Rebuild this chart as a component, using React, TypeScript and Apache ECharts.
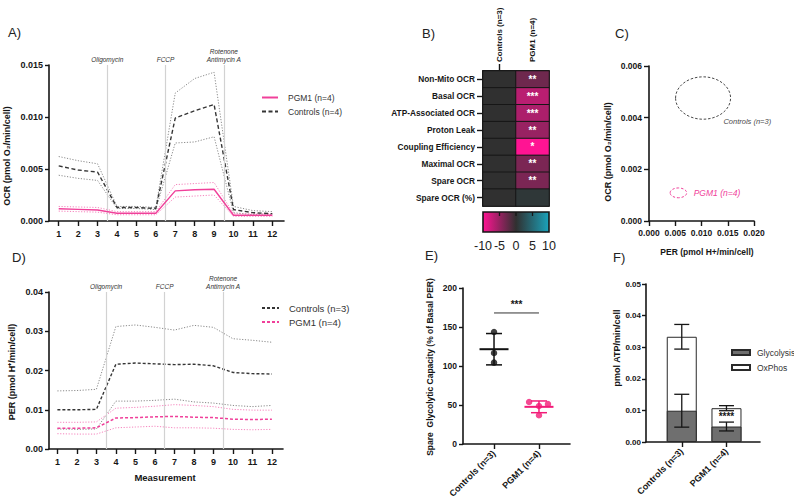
import React, { useEffect, useRef } from "react";
import * as echarts from "echarts";

const WIDTH = 794;
const HEIGHT = 502;
const FONT = "'Liberation Sans', Arial, Helvetica, sans-serif";
const INK = "#161616";
const PINK = "#f0409a";
const PINK_SOFT = "#f584bd";
const GREY = "#8a8a8a";
const DARK = "#353535";

// ---------- A) OCR time course ----------
const measurements = [1, 2, 3, 4, 5, 6, 7, 8, 9, 10, 11, 12];
const ocrControlsMean = [0.0053, 0.0049, 0.0047, 0.0013, 0.0013, 0.0012, 0.0099, 0.0106, 0.0112, 0.0011, 0.0008, 0.0007];
const ocrControlsUpper = [0.0062, 0.0058, 0.0055, 0.0014, 0.0014, 0.0013, 0.0123, 0.0137, 0.0143, 0.0014, 0.001, 0.0009];
const ocrControlsLower = [0.0044, 0.0041, 0.0039, 0.0012, 0.0012, 0.0011, 0.0075, 0.0076, 0.0081, 0.0008, 0.0006, 0.0006];
const ocrPgm1Mean = [0.00118, 0.00112, 0.00106, 0.00075, 0.00074, 0.00074, 0.0029, 0.003, 0.00305, 0.00055, 0.00055, 0.00055];
const ocrPgm1Upper = [0.0014, 0.00135, 0.0013, 0.0009, 0.0009, 0.0009, 0.0035, 0.0036, 0.0037, 0.0007, 0.0007, 0.0007];
const ocrPgm1Lower = [0.00095, 0.0009, 0.00085, 0.0006, 0.0006, 0.0006, 0.0023, 0.0024, 0.0025, 0.00045, 0.00045, 0.00045];

const injectionPoints = [3.5, 6.5, 9.5];
const injectionNames = ["Oligomycin", "FCCP", "Rotenone\nAntimycin A"];

// ---------- D) PER time course ----------
const perControlsMean = [0.01, 0.01, 0.0101, 0.0216, 0.0219, 0.0217, 0.0215, 0.0216, 0.0212, 0.0195, 0.0192, 0.0191];
const perControlsUpper = [0.0148, 0.0149, 0.0152, 0.0312, 0.0316, 0.031, 0.0303, 0.0315, 0.031, 0.0281, 0.0277, 0.0272];
const perControlsLower = [0.0051, 0.005, 0.0051, 0.0122, 0.0122, 0.0124, 0.0127, 0.012, 0.0117, 0.0111, 0.0108, 0.0111];
const perPgm1Mean = [0.0053, 0.0053, 0.0054, 0.0079, 0.008, 0.0082, 0.0083, 0.0081, 0.008, 0.0076, 0.0075, 0.0076];
const perPgm1Upper = [0.0068, 0.0068, 0.0069, 0.0104, 0.0106, 0.0109, 0.0113, 0.0111, 0.0108, 0.0101, 0.0099, 0.0099];
const perPgm1Lower = [0.0039, 0.0038, 0.0038, 0.0054, 0.0056, 0.0058, 0.0054, 0.0054, 0.0053, 0.005, 0.0049, 0.005];

// ---------- B) z-score heatmap ----------
const scoreRows = ["Non-Mito OCR", "Basal OCR", "ATP-Associated OCR", "Proton Leak", "Coupling Efficiency", "Maximal OCR", "Spare OCR", "Spare OCR (%)"];
const scoreColumns = ["Controls (n=3)", "PGM1 (n=4)"];
const controlsScores = [0, 0, 0, 0, 0, 0, 0, 0];
const pgm1Scores = [-3, -6.6, -6, -5, -10, -3.6, -3.6, 0.6];
const pgm1Stars = ["**", "***", "***", "**", "*", "**", "**", ""];
const scoreScale = [-10, -5, 0, 5, 10];
const scoreColors = ["#ff1493", "#303030", "#1ba3bb"];

// ---------- C) energy map ----------
const energyGroups = ["Controls (n=3)", "PGM1 (n=4)"];
const energyPer = [0.0103, 0.0056];
const energyOcr = [0.00476, 0.00109];
const energyPerSpread = [0.00524, 0.00158];
const energyOcrSpread = [0.00082, 0.00019];

// ---------- E) spare glycolytic capacity ----------
const groupNames = ["Controls (n=3)", "PGM1 (n=4)"];
const spareControls = [143.6, 116.7, 104.3];
const sparePgm1 = [53.8, 48.7, 51.3, 36.8];
const sparePgm1Jitter = [-0.22, 0, 0.2, 0];
const spareSignificance = 168;
const spareStars = "***";

// ---------- F) ATP production ----------
const glycolysisAtp = [0.0099, 0.0049];
const glycolysisSd = [0.0052, 0.0014];
const oxphosAtp = [0.0234, 0.0058];
const oxphosSd = [0.0039, 0.0008];
const atpStars = ["", "****"];

// ---------- shared styling helpers ----------
const tickText = (size = 9, extra: any = {}) => ({
  fontFamily: FONT, fontSize: size, fontWeight: "bold", color: INK, ...extra,
});
const axisLine = { show: true, lineStyle: { color: INK, width: 1.6 } };
const axisTick = (length: number, extra: any = {}) => ({
  show: true, length, lineStyle: { color: INK, width: 1.4 }, ...extra,
});
const noSplit = { show: false };

const panelLetter = (text: string, x: number, y: number) => ({
  type: "text", x, y, silent: true,
  style: { text, fill: "#222", fontFamily: FONT, fontSize: 13, align: "left", verticalAlign: "middle" },
});
const verticalTitle = (text: string, x: number, y: number, size = 9, align = "center") => ({
  type: "text", x, y, rotation: Math.PI / 2, silent: true,
  style: { text, fill: INK, fontFamily: FONT, fontSize: size, fontWeight: "bold", align, verticalAlign: "middle" },
});
const flatTitle = (text: string, x: number, y: number, size = 9) => ({
  type: "text", x, y, silent: true,
  style: { text, fill: INK, fontFamily: FONT, fontSize: size, fontWeight: "bold", align: "center", verticalAlign: "middle" },
});

const pairs = (vals: number[]) => vals.map((v, i) => [measurements[i], v]);
const trace = (name: string, vals: number[], color: string, type: any, width: number, z: number) => ({
  type: "line", name, data: pairs(vals), symbol: "none", silent: true, z,
  lineStyle: { color, type, width }, itemStyle: { color },
});

const injectionMarks = {
  silent: true,
  symbol: ["none", "none"],
  lineStyle: { color: "#d2d2d2", width: 1.2, type: "solid" },
  label: {
    show: true, position: "end", distance: 2, fontFamily: FONT, fontSize: 6.5,
    fontStyle: "italic", color: "#333", lineHeight: 8,
  },
  emphasis: { disabled: true },
  data: injectionPoints.map((x, i) => ({ xAxis: x, label: { formatter: injectionNames[i] } })),
};

const measurementAxis = (min: number, max: number) => ({
  type: "value", min, max, splitLine: noSplit, axisLine,
  axisTick: axisTick(5, { customValues: measurements }),
  axisLabel: { ...tickText(9), customValues: measurements, margin: 8 },
});

// line legends show the stroke only
const lineLegend = (left: number, top: number, names: string[], size: number, width: number, gap: number) => ({
  left, top, orient: "vertical", itemWidth: width, itemHeight: 8, itemGap: gap,
  selectedMode: false, data: names,
  itemStyle: { opacity: 0 },
  textStyle: { fontFamily: FONT, fontSize: size, color: "#333", padding: [0, 0, 0, 5] },
});

// ---------- A ----------
const optionA: any = {
  animation: false,
  grid: { left: 49, top: 65, width: 235, height: 156 },
  xAxis: measurementAxis(0.5, 12.6),
  yAxis: {
    type: "value", min: 0, max: 0.015, interval: 0.005,
    splitLine: noSplit, axisLine, axisTick: axisTick(4),
    axisLabel: { ...tickText(9), margin: 6, formatter: (v: number) => v.toFixed(3) },
  },
  legend: lineLegend(256, 88, ["PGM1 (n=4)", "Controls (n=4)"], 8.5, 16, 5),
  graphic: [
    panelLetter("A)", 8, 32),
    verticalTitle("OCR (pmol O\u2082/min/cell)", 7, 156, 9),
  ],
  series: [
    { ...trace("ctrl-upper", ocrControlsUpper, GREY, [1.2, 1.6], 1, 2), markLine: injectionMarks },
    trace("ctrl-lower", ocrControlsLower, GREY, [1.2, 1.6], 1, 2),
    trace("pgm-upper", ocrPgm1Upper, PINK_SOFT, [1.2, 1.6], 1, 3),
    trace("pgm-lower", ocrPgm1Lower, PINK_SOFT, [1.2, 1.6], 1, 3),
    trace("Controls (n=4)", ocrControlsMean, DARK, [4, 2.5], 1.4, 4),
    trace("PGM1 (n=4)", ocrPgm1Mean, PINK, "solid", 1.4, 5),
  ],
};

// ---------- D ----------
const optionD: any = {
  animation: false,
  grid: { left: 49, top: 292, width: 234, height: 157 },
  xAxis: measurementAxis(0.57, 12.57),
  yAxis: {
    type: "value", min: 0, max: 0.04, interval: 0.01,
    splitLine: noSplit, axisLine, axisTick: axisTick(4),
    axisLabel: { ...tickText(9), margin: 6, formatter: (v: number) => v.toFixed(2) },
  },
  legend: lineLegend(256, 298, ["Controls (n=3)", "PGM1 (n=4)"], 9.5, 17, 4),
  graphic: [
    panelLetter("D)", 12, 257),
    verticalTitle("PER (pmol H\u207A/min/cell)", 12, 372, 9),
    flatTitle("Measurement", 165, 477, 9.5),
  ],
  series: [
    { ...trace("ctrl-upper", perControlsUpper, GREY, [1.2, 1.6], 1, 2), markLine: injectionMarks },
    trace("ctrl-lower", perControlsLower, GREY, [1.2, 1.6], 1, 2),
    trace("pgm-upper", perPgm1Upper, PINK_SOFT, [1.2, 1.6], 1, 3),
    trace("pgm-lower", perPgm1Lower, PINK_SOFT, [1.2, 1.6], 1, 3),
    trace("Controls (n=3)", perControlsMean, DARK, [3, 2], 1.4, 4),
    trace("PGM1 (n=4)", perPgm1Mean, PINK, [3, 2], 1.5, 5),
  ],
};

// ---------- B ----------
const heatData: any[] = [];
scoreRows.forEach((_, r) => {
  heatData.push([0, r, controlsScores[r]]);
  heatData.push([1, r, pgm1Scores[r]]);
});

const colorbarItem = (params: any, api: any) => {
  const lo = api.coord([scoreScale[0], 0]);
  const hi = api.coord([scoreScale[scoreScale.length - 1], 1]);
  const marks = scoreScale.slice(1, -1).map((v) => {
    const p = api.coord([v, 1]);
    return {
      type: "line",
      shape: { x1: p[0], y1: p[1], x2: p[0], y2: p[1] + 4 },
      style: { stroke: INK, lineWidth: 1.3 },
    };
  });
  return {
    type: "group",
    children: [
      {
        type: "rect",
        shape: { x: lo[0], y: hi[1], width: hi[0] - lo[0], height: lo[1] - hi[1] },
        style: {
          fill: new echarts.graphic.LinearGradient(0, 0, 1, 0, [
            { offset: 0, color: scoreColors[0] },
            { offset: 0.5, color: scoreColors[1] },
            { offset: 1, color: scoreColors[2] },
          ]),
          stroke: INK, lineWidth: 1.6,
        },
      },
      ...marks,
    ],
  };
};

// column headings of the heatmap, written upward from just above each column tick
const heatLeft = 483;
const heatTop = 71;
const heatWidth = 66;
const heatHeight = 135;
const columnHeadings = scoreColumns.map((name, i) =>
  verticalTitle(name, heatLeft + (heatWidth / scoreColumns.length) * (i + 0.5), heatTop - 9, 8, "left")
);

const optionB: any = {
  animation: false,
  grid: [
    { left: heatLeft, top: heatTop, width: heatWidth, height: heatHeight, show: true, borderColor: INK, borderWidth: 1.6, backgroundColor: "transparent" },
    { left: heatLeft, top: 212, width: heatWidth, height: 20 },
  ],
  xAxis: [
    {
      gridIndex: 0, type: "category", position: "top", data: scoreColumns,
      axisLine, axisTick: axisTick(7, { alignWithLabel: true }), splitLine: noSplit,
      axisLabel: { show: false },
    },
    {
      gridIndex: 1, type: "value", min: -10, max: 10, interval: 5,
      axisLine: { show: false }, axisTick: { show: false }, splitLine: noSplit,
      axisLabel: { fontFamily: FONT, fontSize: 12.5, color: "#222", margin: 7 },
    },
  ],
  yAxis: [
    {
      gridIndex: 0, type: "category", inverse: true, data: scoreRows,
      axisLine, axisTick: axisTick(6, { alignWithLabel: true }), splitLine: noSplit,
      axisLabel: { ...tickText(8.3), margin: 8, interval: 0 },
    },
    { gridIndex: 1, type: "value", min: 0, max: 1, show: false },
  ],
  visualMap: {
    type: "continuous", min: -10, max: 10, show: false, seriesIndex: 0,
    inRange: { color: scoreColors },
  },
  graphic: [panelLetter("B)", 422, 33), ...columnHeadings],
  series: [
    {
      type: "heatmap", xAxisIndex: 0, yAxisIndex: 0, data: heatData,
      itemStyle: { borderColor: INK, borderWidth: 1 },
      emphasis: { disabled: true },
      label: {
        show: true, color: "#fff", fontFamily: FONT, fontWeight: "bold", fontSize: 10,
        formatter: (p: any) => (p.value[0] === 1 ? pgm1Stars[p.value[1]] : ""),
      },
    },
    {
      type: "custom", xAxisIndex: 1, yAxisIndex: 1, silent: true,
      data: [[scoreScale[0], 0]], renderItem: colorbarItem,
    },
  ],
};

// ---------- C ----------
const energyItem = (params: any, api: any) => {
  const i = params.dataIndex;
  const c = api.coord([api.value(0), api.value(1)]);
  const s = api.size([api.value(2), api.value(3)]);
  const color = i === 0 ? "#4a4a4a" : PINK;
  const lx = i === 0 ? c[0] + s[0] * 0.74 : c[0] + s[0] + 7;
  const ly = i === 0 ? c[1] + s[1] + 2 : c[1];
  return {
    type: "group",
    children: [
      {
        type: "ellipse",
        shape: { cx: c[0], cy: c[1], rx: s[0], ry: s[1] },
        style: { fill: "none", stroke: color, lineWidth: 1, lineDash: [2.5, 1.8] },
      },
      {
        type: "text", x: lx, y: ly,
        style: {
          text: energyGroups[i], fill: color, fontFamily: FONT, fontStyle: "italic",
          fontSize: i === 0 ? 7.5 : 8.5, align: "left", verticalAlign: "middle",
        },
      },
    ],
  };
};

const optionC: any = {
  animation: false,
  grid: { left: 649, top: 66, width: 105, height: 155 },
  xAxis: {
    type: "value", min: 0, max: 0.02, interval: 0.005, splitLine: noSplit, axisLine,
    axisTick: axisTick(5), axisLabel: { ...tickText(8.5), margin: 7, formatter: (v: number) => v.toFixed(3) },
  },
  yAxis: {
    type: "value", min: 0, max: 0.006, interval: 0.002, splitLine: noSplit, axisLine,
    axisTick: axisTick(5), axisLabel: { ...tickText(8.5), margin: 7, formatter: (v: number) => v.toFixed(3) },
  },
  graphic: [
    panelLetter("C)", 615, 33),
    verticalTitle("OCR (pmol O\u2082/min/cell)", 608, 152, 9),
    flatTitle("PER (pmol H+/min/cell)", 707, 252, 8.5),
  ],
  series: [
    {
      type: "custom", silent: true, clip: false,
      data: energyGroups.map((_, i) => [energyPer[i], energyOcr[i], energyPerSpread[i], energyOcrSpread[i]]),
      renderItem: energyItem,
    },
  ],
};

// ---------- E ----------
const meanOf = (a: number[]) => a.reduce((s, v) => s + v, 0) / a.length;
const sdOf = (a: number[]) => {
  const m = meanOf(a);
  return Math.sqrt(a.reduce((s, v) => s + (v - m) * (v - m), 0) / (a.length - 1));
};
const spareGroups = [spareControls, sparePgm1];
const spareColors = ["#111111", "#f21b78"];

const spreadItem = (params: any, api: any) => {
  const i = params.dataIndex;
  const x = api.value(0), m = api.value(1), sd = api.value(2);
  const c = api.coord([x, m]);
  const hi = api.coord([x, m + sd]);
  const lo = api.coord([x, m - sd]);
  const stroke = spareColors[i];
  return {
    type: "group",
    children: [
      { type: "line", shape: { x1: c[0] - 14.5, y1: c[1], x2: c[0] + 14.5, y2: c[1] }, style: { stroke, lineWidth: 2 } },
      { type: "line", shape: { x1: hi[0], y1: hi[1], x2: lo[0], y2: lo[1] }, style: { stroke, lineWidth: 1.5 } },
      { type: "line", shape: { x1: hi[0] - 8, y1: hi[1], x2: hi[0] + 8, y2: hi[1] }, style: { stroke, lineWidth: 1.5 } },
      { type: "line", shape: { x1: lo[0] - 8, y1: lo[1], x2: lo[0] + 8, y2: lo[1] }, style: { stroke, lineWidth: 1.5 } },
    ],
  };
};

const bracketItem = (params: any, api: any) => {
  const a = api.coord([api.value(0), api.value(2)]);
  const b = api.coord([api.value(1), api.value(2)]);
  return {
    type: "group",
    children: [
      { type: "line", shape: { x1: a[0], y1: a[1], x2: b[0], y2: b[1] }, style: { stroke: "#333", lineWidth: 1 } },
      {
        type: "text", x: (a[0] + b[0]) / 2, y: a[1] - 3,
        style: { text: spareStars, fill: INK, fontFamily: FONT, fontWeight: "bold", fontSize: 10, align: "center", verticalAlign: "bottom" },
      },
    ],
  };
};

const groupAxis = (min: number, max: number) => ({
  type: "value", min, max, splitLine: noSplit, axisLine,
  axisTick: axisTick(5, { customValues: [1, 2] }),
  axisLabel: {
    ...tickText(9), customValues: [1, 2], rotate: 45, margin: 8,
    formatter: (v: number) => groupNames[Math.round(v) - 1],
  },
});

const optionE: any = {
  animation: false,
  grid: { left: 463, top: 288, width: 107, height: 156 },
  xAxis: groupAxis(0.31, 2.69),
  yAxis: {
    type: "value", min: 0, max: 200, interval: 50, splitLine: noSplit, axisLine,
    axisTick: axisTick(4), axisLabel: { ...tickText(8.5), margin: 6 },
  },
  graphic: [
    panelLetter("E)", 425, 255),
    verticalTitle("Spare  Glycolytic Capacity (% of Basal PER)", 430, 367, 8.5),
  ],
  series: [
    {
      type: "scatter", silent: true, symbolSize: 6.5, z: 3,
      itemStyle: { color: spareColors[0] },
      data: spareControls.map((v) => [1, v]),
    },
    {
      type: "scatter", silent: true, symbolSize: 6.5, z: 3,
      itemStyle: { color: spareColors[1] },
      data: sparePgm1.map((v, i) => [2 + sparePgm1Jitter[i], v]),
    },
    {
      type: "custom", silent: true, z: 4,
      data: spareGroups.map((g, i) => [i + 1, meanOf(g), sdOf(g)]),
      renderItem: spreadItem,
    },
    {
      type: "custom", silent: true, z: 4,
      data: [[1, 2, spareSignificance]],
      renderItem: bracketItem,
    },
  ],
};

// ---------- F ----------
const atpTotal = glycolysisAtp.map((v, i) => v + oxphosAtp[i]);
const atpErrorData = groupNames.flatMap((_, i) => [
  [i + 1, glycolysisAtp[i], glycolysisSd[i]],
  [i + 1, atpTotal[i], oxphosSd[i]],
]);

const errorItem = (params: any, api: any) => {
  const x = api.value(0), y = api.value(1), sd = api.value(2);
  const hi = api.coord([x, y + sd]);
  const lo = api.coord([x, y - sd]);
  const style = { stroke: INK, lineWidth: 1.3 };
  return {
    type: "group",
    children: [
      { type: "line", shape: { x1: hi[0], y1: hi[1], x2: lo[0], y2: lo[1] }, style },
      { type: "line", shape: { x1: hi[0] - 7.5, y1: hi[1], x2: hi[0] + 7.5, y2: hi[1] }, style },
      { type: "line", shape: { x1: lo[0] - 7.5, y1: lo[1], x2: lo[0] + 7.5, y2: lo[1] }, style },
    ],
  };
};

const atpStarItem = (params: any, api: any) => {
  const p = api.coord([api.value(0), api.value(1)]);
  return {
    type: "text", x: p[0], y: p[1],
    style: { text: atpStars[params.dataIndex], fill: INK, fontFamily: FONT, fontWeight: "bold", fontSize: 10, align: "center", verticalAlign: "middle" },
  };
};

const optionF: any = {
  animation: false,
  grid: { left: 646, top: 284, width: 114, height: 158 },
  xAxis: groupAxis(0.2, 2.75),
  yAxis: {
    type: "value", min: 0, max: 0.05, interval: 0.01, splitLine: noSplit, axisLine,
    axisTick: axisTick(4), axisLabel: { ...tickText(8), margin: 5, formatter: (v: number) => v.toFixed(2) },
  },
  legend: {
    left: 726, top: 343, orient: "vertical", icon: "rect", itemWidth: 18, itemHeight: 5, itemGap: 6,
    selectedMode: false, data: ["Glycolysis", "OxPhos"],
    textStyle: { fontFamily: FONT, fontSize: 8.5, color: "#333", padding: [0, 0, 0, 2] },
  },
  graphic: [
    panelLetter("F)", 613, 257),
    verticalTitle("pmol ATP/min/cell", 617, 348, 9),
  ],
  series: [
    // OxPhos sits on top of glycolysis: its bar spans 0..total and the glycolysis bar overlays the lower part
    {
      type: "bar", name: "OxPhos", barWidth: 30, barGap: "-100%", silent: true, z: 2,
      data: atpTotal.map((v, i) => [i + 1, v]),
      itemStyle: { color: "#ffffff", borderColor: "#2a2a2a", borderWidth: 1 },
    },
    {
      type: "bar", name: "Glycolysis", barWidth: 30, barGap: "-100%", silent: true, z: 3,
      data: glycolysisAtp.map((v, i) => [i + 1, v]),
      itemStyle: { color: "#6f6f6f", borderColor: "#2a2a2a", borderWidth: 1 },
    },
    { type: "custom", silent: true, z: 5, data: atpErrorData, renderItem: errorItem },
    {
      type: "custom", silent: true, z: 6,
      data: groupNames.map((_, i) => [
        i + 1,
        (glycolysisAtp[i] + glycolysisSd[i] + atpTotal[i] - oxphosSd[i]) / 2,
      ]),
      renderItem: atpStarItem,
    },
  ],
};

const panelOptions = [optionA, optionB, optionC, optionD, optionE, optionF];

function ChartLayer({ option }: { option: any }) {
  const ref = useRef<HTMLDivElement>(null);
  useEffect(() => {
    if (!ref.current) return;
    const chart = echarts.init(ref.current, null, { renderer: "svg" });
    chart.setOption(option);
    return () => chart.dispose();
  }, [option]);
  return (
    <div
      ref={ref}
      style={{ position: "absolute", left: 0, top: 0, width: WIDTH, height: HEIGHT }}
    />
  );
}

export default function App() {
  return (
    <div
      style={{
        position: "absolute", left: 0, top: 0, width: WIDTH, height: HEIGHT,
        background: "#ffffff", overflow: "hidden",
      }}
    >
      {panelOptions.map((opt, i) => (
        <ChartLayer key={i} option={opt} />
      ))}
    </div>
  );
}
